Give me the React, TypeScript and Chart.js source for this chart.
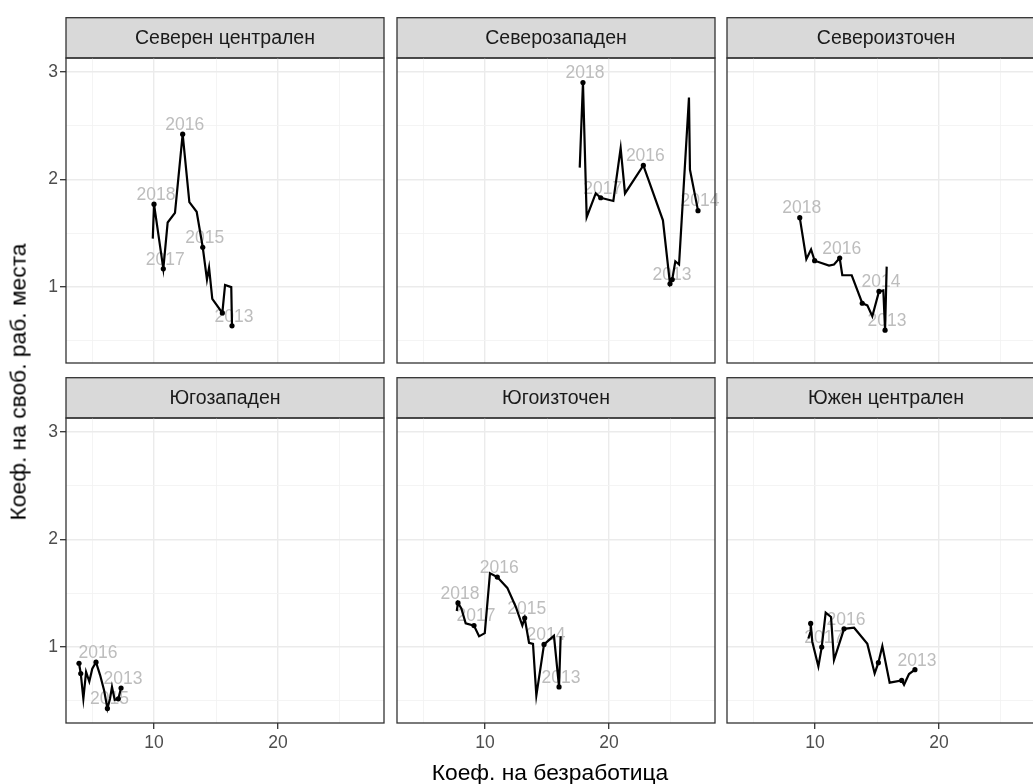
import React, { useEffect, useRef } from "react";
import { Chart, registerables } from "chart.js";

Chart.register(...registerables);

const FONT = "'Liberation Sans', Arial, Helvetica, sans-serif";

// ---------- data ----------
const regions = [
  "Северен централен",
  "Северозападен",
  "Североизточен",
  "Югозападен",
  "Югоизточен",
  "Южен централен",
];
const years = ["2013", "2014", "2015", "2016", "2017", "2018"];

// Северен централен
const ncUnemp = [9.9, 10.0, 10.75, 11.1, 11.69, 12.31, 12.85, 13.44, 13.93, 14.27, 14.44, 14.7, 15.51, 15.73, 16.23, 16.29];
const ncVac = [1.45, 1.77, 1.17, 1.6, 1.69, 2.42, 1.79, 1.7, 1.37, 1.07, 1.18, 0.89, 0.76, 1.02, 1.0, 0.64];
const ncYearUnemp = [16.29, 15.51, 13.93, 12.31, 10.75, 10.0];
const ncYearVac = [0.64, 0.76, 1.37, 2.42, 1.17, 1.77];
const ncShown = [true, false, true, true, true, true];

// Северозападен
const nwUnemp = [17.64, 17.9, 18.2, 18.93, 19.33, 20.35, 20.94, 21.29, 22.77, 24.35, 24.92, 25.1, 25.35, 25.65, 26.45, 26.53, 27.18];
const nwVac = [2.11, 2.9, 1.65, 1.87, 1.83, 1.8, 2.29, 1.87, 2.13, 1.62, 1.03, 1.07, 1.24, 1.21, 2.76, 2.09, 1.71];
const nwYearUnemp = [24.92, 27.18, 25.1, 22.77, 19.33, 17.9];
const nwYearVac = [1.03, 1.71, 1.07, 2.13, 1.83, 2.9];
const nwShown = [true, true, false, true, true, true];

// Североизточен
const neUnemp = [8.77, 9.3, 9.68, 9.97, 11.13, 11.53, 11.99, 12.2, 12.96, 13.81, 14.22, 14.62, 15.16, 15.51, 15.65, 15.78];
const neVac = [1.645, 1.26, 1.35, 1.245, 1.2, 1.21, 1.27, 1.11, 1.11, 0.85, 0.83, 0.73, 0.96, 0.97, 0.6, 1.19];
const neYearUnemp = [15.65, 15.16, 13.81, 11.99, 9.97, 8.77];
const neYearVac = [0.6, 0.96, 0.85, 1.27, 1.245, 1.645];
const neShown = [true, true, false, true, false, true];

// Югозападен
const swUnemp = [3.95, 4.09, 4.3, 4.52, 4.78, 5.02, 5.32, 5.65, 5.97, 6.24, 6.45, 6.61, 6.83, 7.12, 7.34];
const swVac = [0.85, 0.755, 0.52, 0.77, 0.68, 0.8, 0.86, 0.74, 0.6, 0.43, 0.52, 0.63, 0.51, 0.52, 0.62];
const swYearUnemp = [7.34, 7.12, 6.24, 5.32, 4.09, 3.95];
const swYearVac = [0.62, 0.52, 0.43, 0.86, 0.755, 0.85];
const swShown = [true, false, true, true, false, false];

// Югоизточен
const seUnemp = [7.72, 7.82, 8.09, 8.44, 9.11, 9.52, 9.98, 10.4, 10.99, 11.8, 12.48, 13.01, 13.2, 13.55, 13.87, 14.14, 14.76, 15.56, 15.97, 16.1];
const seVac = [1.335, 1.41, 1.36, 1.22, 1.2, 1.1, 1.13, 1.686, 1.65, 1.55, 1.375, 1.2, 1.27, 1.04, 1.03, 0.55, 1.025, 1.105, 0.63, 1.1];
const seYearUnemp = [15.97, 14.76, 13.2, 10.99, 9.11, 7.82];
const seYearVac = [0.63, 1.025, 1.27, 1.65, 1.2, 1.41];
const seShown = [true, true, true, true, true, true];

// Южен централен
const scUnemp = [9.46, 9.6, 9.65, 9.78, 10.27, 10.54, 10.86, 11.29, 11.53, 12.34, 13.15, 14.22, 14.81, 15.11, 15.43, 16.02, 16.99, 17.18, 17.58, 18.06];
const scVac = [1.08, 1.13, 1.22, 1.05, 0.82, 1.0, 1.32, 1.28, 0.88, 1.17, 1.18, 1.03, 0.755, 0.855, 1.01, 0.67, 0.69, 0.65, 0.75, 0.79];
const scYearUnemp = [18.06, 16.99, 15.11, 12.34, 10.54, 9.65];
const scYearVac = [0.79, 0.69, 0.855, 1.17, 1.0, 1.22];
const scShown = [true, false, false, true, true, false];

const xTickValues = [5, 10, 15, 20, 25];
const yTickValues = [0.5, 1, 1.5, 2, 2.5, 3];
const X_MIN = 2.9;
const X_MAX = 28.55;
const Y_MIN = 0.295;
const Y_MAX = 3.128;

const xTitle = "Коеф. на безработица";
const yTitle = "Коеф. на своб. раб. места";

const panels = [
  { name: regions[0], lx: ncUnemp, ly: ncVac, px: ncYearUnemp, py: ncYearVac, shown: ncShown },
  { name: regions[1], lx: nwUnemp, ly: nwVac, px: nwYearUnemp, py: nwYearVac, shown: nwShown },
  { name: regions[2], lx: neUnemp, ly: neVac, px: neYearUnemp, py: neYearVac, shown: neShown },
  { name: regions[3], lx: swUnemp, ly: swVac, px: swYearUnemp, py: swYearVac, shown: swShown },
  { name: regions[4], lx: seUnemp, ly: seVac, px: seYearUnemp, py: seYearVac, shown: seShown },
  { name: regions[5], lx: scUnemp, ly: scVac, px: scYearUnemp, py: scYearVac, shown: scShown },
];

// ---------- layout ----------
const COL_LEFT = [66, 397, 727];
const ROW_TOP = [17, 377];
const STRIP_H = 41;
const PLOT_W = 318;
const PLOT_H = 305;
const AXIS_L = 64;
const PAD_R = 4;

const facetPlugin = {
  id: "facet",
  beforeDraw(chart: any, _args: any, opts: any) {
    const { ctx, chartArea: a } = chart;
    ctx.save();
    ctx.fillStyle = "#d9d9d9";
    ctx.fillRect(a.left, a.top - STRIP_H, a.right - a.left, STRIP_H);
    ctx.strokeStyle = "#333333";
    ctx.lineWidth = 1.3;
    ctx.strokeRect(a.left, a.top - STRIP_H + 0.7, a.right - a.left, STRIP_H - 0.7);
    ctx.fillStyle = "#1a1a1a";
    ctx.font = `19.5px ${FONT}`;
    ctx.textAlign = "center";
    ctx.textBaseline = "middle";
    ctx.fillText(opts.title, (a.left + a.right) / 2, a.top - STRIP_H / 2 + 1);
    ctx.restore();
  },
  beforeDatasetsDraw(chart: any, _args: any, opts: any) {
    const { ctx } = chart;
    const meta = chart.getDatasetMeta(1);
    ctx.save();
    ctx.fillStyle = "#bdbdbd";
    ctx.font = `17.5px ${FONT}`;
    ctx.textAlign = "center";
    ctx.textBaseline = "middle";
    meta.data.forEach((el: any, i: number) => {
      if (opts.shown[i]) ctx.fillText(years[i], el.x + 2, el.y - 9);
    });
    ctx.restore();
  },
  afterDraw(chart: any) {
    const { ctx, chartArea: a } = chart;
    ctx.save();
    ctx.strokeStyle = "#333333";
    ctx.lineWidth = 1.3;
    ctx.strokeRect(a.left, a.top, a.right - a.left, a.bottom - a.top);
    ctx.restore();
  },
};

function Panel({ idx }: { idx: number }) {
  const ref = useRef<HTMLCanvasElement>(null);
  const p = panels[idx];
  const col = idx % 3;
  const row = Math.floor(idx / 3);
  const showX = row === 1;
  const showY = col === 0;
  const bottomRoom = showX ? 50 : 14;
  const w = AXIS_L + PLOT_W + PAD_R;
  const h = STRIP_H + PLOT_H + bottomRoom;

  useEffect(() => {
    if (!ref.current) return;
    const majorX = (v: number) => v % 10 === 0;
    const majorY = (v: number) => Number.isInteger(v);
    const chart = new Chart(ref.current, {
      type: "scatter",
      data: {
        datasets: [
          {
            data: p.lx.map((x, i) => ({ x, y: p.ly[i] })),
            showLine: true,
            borderColor: "#000000",
            borderWidth: 2.2,
            pointRadius: 0,
            pointHoverRadius: 0,
          },
          {
            data: p.px.map((x, i) => ({ x, y: p.py[i] })),
            showLine: false,
            pointRadius: 2.6,
            pointHoverRadius: 2.6,
            pointBackgroundColor: "#000000",
            pointBorderWidth: 0,
          },
        ],
      },
      options: {
        animation: false,
        responsive: false,
        maintainAspectRatio: false,
        events: [],
        layout: { padding: { top: STRIP_H, right: PAD_R, left: 0, bottom: 0 } },
        plugins: {
          legend: { display: false },
          tooltip: { enabled: false },
          facet: { title: p.name, shown: p.shown },
        } as any,
        scales: {
          x: {
            type: "linear",
            min: X_MIN,
            max: X_MAX,
            afterBuildTicks: (s: any) => {
              s.ticks = xTickValues.map((v) => ({ value: v }));
            },
            afterFit: (s: any) => {
              s.height = bottomRoom;
            },
            border: { display: false },
            grid: {
              color: (c: any) => (majorX(c.tick?.value) ? "#ebebeb" : "#f3f3f3"),
              lineWidth: (c: any) => (majorX(c.tick?.value) ? 1.4 : 0.9),
              drawTicks: showX,
              tickLength: 6,
              tickWidth: 1.3,
              tickColor: (c: any) => (majorX(c.tick?.value) ? "#333333" : "rgba(0,0,0,0)"),
            },
            ticks: {
              display: showX,
              autoSkip: false,
              maxRotation: 0,
              minRotation: 0,
              padding: 4,
              color: "#4d4d4d",
              font: { family: FONT, size: 17.5 },
              callback: (v: any) => (majorX(Number(v)) ? String(v) : ""),
            },
          },
          y: {
            type: "linear",
            min: Y_MIN,
            max: Y_MAX,
            afterBuildTicks: (s: any) => {
              s.ticks = yTickValues.map((v) => ({ value: v }));
            },
            afterFit: (s: any) => {
              s.width = AXIS_L;
            },
            border: { display: false },
            grid: {
              color: (c: any) => (majorY(c.tick?.value) ? "#ebebeb" : "#f3f3f3"),
              lineWidth: (c: any) => (majorY(c.tick?.value) ? 1.4 : 0.9),
              drawTicks: showY,
              tickLength: 6,
              tickWidth: 1.3,
              tickColor: (c: any) => (majorY(c.tick?.value) ? "#333333" : "rgba(0,0,0,0)"),
            },
            ticks: {
              display: showY,
              autoSkip: false,
              padding: 2,
              color: "#4d4d4d",
              font: { family: FONT, size: 17.5 },
              callback: (v: any) => (majorY(Number(v)) ? String(v) : ""),
            },
          },
        },
      },
      plugins: [facetPlugin as any],
    });
    return () => chart.destroy();
  }, [idx]);

  return (
    <canvas
      ref={ref}
      width={w}
      height={h}
      style={{
        position: "absolute",
        left: COL_LEFT[col] - AXIS_L,
        top: ROW_TOP[row],
        width: w,
        height: h,
      }}
    />
  );
}

export default function App() {
  return (
    <div
      style={{
        position: "absolute",
        left: 0,
        top: 0,
        width: 1033,
        height: 784,
        overflow: "hidden",
        background: "#ffffff",
      }}
    >
      {panels.map((_, i) => (
        <Panel key={i} idx={i} />
      ))}
      <div
        style={{
          position: "absolute",
          left: 18,
          top: 382,
          transform: "translate(-50%, -50%) rotate(-90deg)",
          whiteSpace: "nowrap",
          fontFamily: FONT,
          fontSize: 22.8,
          color: "#000000",
          lineHeight: 1,
        }}
      >
        {yTitle}
      </div>
      <div
        style={{
          position: "absolute",
          left: 550,
          top: 772,
          transform: "translate(-50%, -50%)",
          whiteSpace: "nowrap",
          fontFamily: FONT,
          fontSize: 22.8,
          color: "#000000",
          lineHeight: 1,
        }}
      >
        {xTitle}
      </div>
    </div>
  );
}
